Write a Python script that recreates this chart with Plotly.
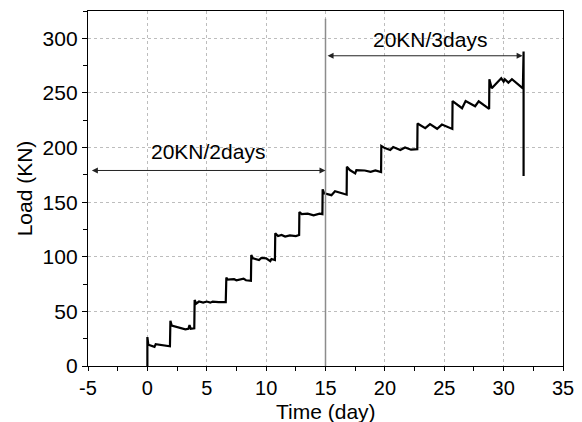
import plotly.graph_objects as go

# Load history of the staged loading test (time in days, load in kN)
time_day = [
    0.0, 0.0, 0.08, 0.6, 0.7, 1.5, 1.9,
    1.94, 2.05, 3.2, 3.45, 3.55, 3.65, 3.95,
    3.98, 4.1, 4.35, 4.7, 5.0, 5.3, 5.5, 6.0, 6.6,
    6.65, 6.75, 7.3, 7.5, 8.1, 8.3, 8.72,
    8.75, 8.9, 9.4, 9.6, 10.0, 10.35, 10.45, 10.74,
    10.77, 11.0, 11.3, 11.6, 12.0, 12.5, 12.78,
    12.8, 13.0, 13.5, 14.0, 14.5, 14.74,
    14.76, 14.9, 15.5, 15.8, 16.6, 16.78,
    16.8, 17.05, 17.5, 17.6, 18.3, 18.8, 19.2, 19.68,
    19.7, 20.0, 20.45, 20.7, 21.3, 21.7, 22.2, 22.73,
    22.75, 23.0, 23.4, 23.8, 24.4, 24.8, 25.68,
    25.7, 25.9, 26.5, 26.8, 27.6, 27.9, 28.78,
    28.8, 29.0, 29.8, 30.0, 30.1, 30.4, 30.7, 31.62,
    31.68, 31.68,
]
load_kn = [
    0, 26.5, 19.5, 17.5, 20, 18.5, 18,
    41.5, 37, 33.5, 34, 37.5, 34, 34.5,
    60.5, 57, 59, 58, 59, 58, 59, 58.5, 58.5,
    81, 79, 79.5, 78.5, 80, 78.5, 78,
    101.5, 98.5, 97, 99, 98.5, 96, 98, 97,
    121.5, 119, 120, 118.5, 119.5, 119, 120,
    141, 139, 139.5, 138, 139.5, 139,
    161.7, 158, 156.4, 160, 157.5, 157,
    182.4, 179.4, 176.4, 179.4, 179, 177.8, 179, 177.5,
    201.4, 199.5, 197.7, 200.4, 197.7, 200, 198, 198.5,
    222, 220.6, 217.8, 221.5, 217.2, 221, 217,
    242.6, 240.8, 236, 242.6, 237.8, 242.3, 235.3,
    262.5, 254.2, 263.4, 260.3, 262.5, 259.4, 262.5, 254.2,
    288, 174,
]

x_tick_vals = [-5, 0, 5, 10, 15, 20, 25, 30, 35]
x_tick_text = ["-5", "0", "5", "10", "15", "20", "25", "30", "35"]
y_tick_vals = [0, 50, 100, 150, 200, 250, 300]

x_title = "Time (day)"
y_title = "Load (KN)"

# Dimension arrows marking the two loading stages
arrow_labels = ["20KN/2days", "20KN/3days"]
arrow_x0 = [-4.8, 15.05]
arrow_x1 = [15.0, 31.6]
arrow_y = [179, 284]
label_x = [5.1, 23.8]
label_y = [196, 299]

stage_boundary_day = 15
stage_boundary_top = 318

FONT = "Liberation Sans, Arial, sans-serif"

fig = go.Figure()

fig.add_trace(go.Scatter(
    x=time_day, y=load_kn, mode="lines",
    line=dict(color="black", width=2.2),
    showlegend=False, hoverinfo="skip",
))

# boundary between the two loading stages
fig.add_shape(
    type="line", xref="x", yref="y",
    x0=stage_boundary_day, x1=stage_boundary_day, y0=0, y1=stage_boundary_top,
    line=dict(color="#8c8c8c", width=1.5),
)

for lab, xa, xb, ya, lx, ly in zip(arrow_labels, arrow_x0, arrow_x1, arrow_y, label_x, label_y):
    fig.add_annotation(
        x=xb, y=ya, ax=xa, ay=ya, xref="x", yref="y", axref="x", ayref="y",
        text="", showarrow=True, arrowhead=2, startarrowhead=2,
        arrowside="end+start", arrowsize=1.2, startarrowsize=1.2,
        arrowwidth=1, arrowcolor="#222222",
    )
    fig.add_annotation(
        x=lx, y=ly, xref="x", yref="y", text=lab, showarrow=False,
        font=dict(family=FONT, size=21, color="black"),
    )

# x-axis title placed as a paper annotation just below the tick labels
fig.add_annotation(
    x=0.5, y=-0.163, xref="paper", yref="paper", text=x_title,
    showarrow=False, xanchor="center", yanchor="bottom", borderpad=0,
    font=dict(family=FONT, size=21, color="black"),
)

axis_common = dict(
    showline=True, linecolor="black", linewidth=1.3, mirror=True,
    ticks="outside", tickwidth=1.2, tickcolor="black",
    showgrid=True, gridcolor="#bdbdbd", griddash="dot", gridwidth=1,
    zeroline=False, automargin=False,
)

fig.update_xaxes(
    range=[-5, 35], tickmode="array", tickvals=x_tick_vals, ticktext=x_tick_text,
    ticklen=4, tickfont=dict(family=FONT, size=20, color="black"),
    minor=dict(ticks="outside", ticklen=4, dtick=2.5, tick0=-5, tickcolor="black", showgrid=False),
    **axis_common,
)
fig.update_yaxes(
    range=[0, 325], tickmode="array", tickvals=y_tick_vals,
    ticklen=5, tickfont=dict(family=FONT, size=21, color="black"),
    minor=dict(ticks="outside", ticklen=4, dtick=25, tick0=0, tickcolor="black", showgrid=False),
    title=dict(text=y_title, font=dict(family=FONT, size=21, color="black"), standoff=4),
    **axis_common,
)

fig.update_layout(
    width=582, height=422,
    margin=dict(l=88, r=19, t=11, b=56),
    paper_bgcolor="white", plot_bgcolor="white",
)

fig.write_html("out.html")
